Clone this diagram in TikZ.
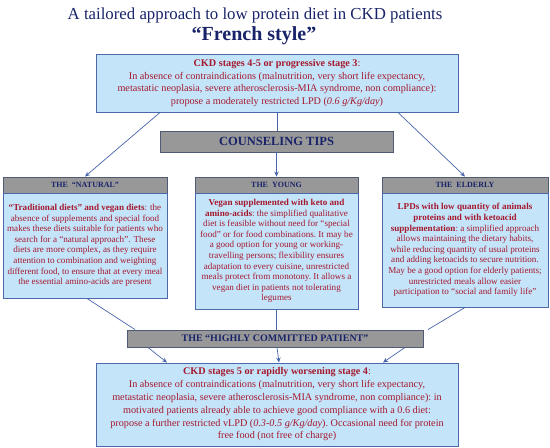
\documentclass[tikz,border=0pt]{standalone}
\usepackage{fontspec}
\setmainfont{Liberation Serif}
\usetikzlibrary{arrows.meta,calc}
\definecolor{boxfill}{RGB}{196,228,250}
\definecolor{boxline}{RGB}{75,105,170}
\definecolor{grayfill}{RGB}{152,152,152}
\definecolor{grayline}{RGB}{80,90,115}
\definecolor{redtxt}{RGB}{165,25,45}
\definecolor{navy}{RGB}{25,35,105}
\definecolor{conn}{RGB}{70,100,170}
\tikzset{
  bluebox/.style={draw=boxline, fill=boxfill, line width=0.9pt, inner sep=1pt, align=center, text=redtxt},
  graybox/.style={draw=grayline, fill=grayfill, line width=0.9pt, inner sep=1pt, align=center, text=navy, font=\bfseries},
  conline/.style={draw=conn, line width=0.7pt},
  conarrow/.style={conline, -{Stealth[length=5pt,width=4.5pt,open]}},
}
\begin{document}
\begin{tikzpicture}[x=1pt,y=-1pt]
\useasboundingbox (0,0) rectangle (550,448);
% titles
\node[text=navy, font=\fontsize{16.8}{19}\selectfont] (t1) at (255,15) {A tailored approach to low protein diet in CKD patients};
\node[text=navy, font=\bfseries\fontsize{20}{22}\selectfont] (t2) at (254,36) {“French style”};
% top box
\node[bluebox, minimum width=362, minimum height=58, font=\fontsize{10.2}{12.6}\selectfont] (top) at (277,83)
 {\textbf{CKD stages 4-5 or progressive stage 3}:\\
  In absence of contraindications\ (malnutrition,\ very short life\ expectancy,\\
  metastatic\ neoplasia,\ severe\ atherosclerosis-MIA\ syndrome,\ non compliance):\\
  propose a moderately\ restricted\ LPD (\textit{0.6 g/Kg/day})};
% counseling tips
\node[graybox, minimum width=233, minimum height=21, font=\bfseries\fontsize{12.5}{14}\selectfont] (tips) at (276.5,141.5) {COUNSELING TIPS};
% headers
\node[graybox, minimum width=164, minimum height=16, font=\bfseries\fontsize{8}{9}\selectfont] (hL) at (85,185) {THE\ \ “NATURAL”};
\node[graybox, minimum width=163, minimum height=16, font=\bfseries\fontsize{8}{9}\selectfont] (hM) at (276.5,185) {THE\ \ YOUNG};
\node[graybox, minimum width=166, minimum height=16, font=\bfseries\fontsize{8}{9}\selectfont] (hR) at (465,185) {THE\ \ ELDERLY};
% bodies
\node[bluebox, minimum width=164, minimum height=105, font=\fontsize{9.1}{10.6}\selectfont] (bL) at (85,245.5)
 {\textbf{“Traditional\ diets” and vegan\ diets}: the\\
  absence of supplements and special food\\
  makes these diets suitable for patients who\\
  search for a “natural approach”. These\\
  diets are more\ complex,\ as they require\\
  attention to combination\ and weighting\\
  different food, to ensure that at every meal\\
  the essential amino-acids\ are present};
\node[bluebox, minimum width=163, minimum height=116, font=\fontsize{9.1}{10.6}\selectfont] (bM) at (276.5,251)
 {\textbf{Vegan\ supplemented\ with\ keto and}\\
  \textbf{amino-acids}:\ the simplified\ qualitative\\
  diet is feasible without need for “special\\
  food” or for food combinations.\ It may be\\
  a good option for young or working-\\
  travelling persons; flexibility\ ensures\\
  adaptation to every cuisine, unrestricted\\
  meals protect from\ monotony.\ It allows\ a\\
  vegan diet in patients not tolerating\\
  legumes};
\node[bluebox, minimum width=166, minimum height=114, font=\fontsize{9.1}{10.6}\selectfont] (bR) at (465,250)
 {\textbf{LPDs with\ low quantity\ of\ animals}\\
  \textbf{proteins\ and\ with\ ketoacid}\\
  \textbf{supplementation}:\ a simplified\ approach\\
  allows maintaining\ the dietary habits,\\
  while\ reducing quantity of usual proteins\\
  and adding ketoacids to secure nutrition.\\
  May be a good option for elderly\ patients;\\
  unrestricted meals\ allow\ easier\\
  participation to “social and family\ life”};
% highly committed
\node[graybox, minimum width=296, minimum height=17, font=\bfseries\fontsize{10}{11}\selectfont] (hc) at (275,338.5) {THE “HIGHLY COMMITTED PATIENT”};
% bottom box
\node[bluebox, minimum width=362, minimum height=83, font=\fontsize{10.2}{12.8}\selectfont] (bot) at (277,404.5)
 {\textbf{CKD stages 5 or rapidly\ worsening\ stage 4}:\\
  In absence of contraindications\ (malnutrition,\ very short life\ expectancy,\\
  metastatic\ neoplasia,\ severe atherosclerosis-MIA\ syndrome,\ non compliance):\ in\\
  motivated\ patients\ already\ able to achieve\ good compliance\ with\ a 0.6 diet:\\
  propose a further\ restricted\ vLPD (\textit{0.3-0.5 g/Kg/day}).\ Occasional\ need for protein\\
  free food (not free of charge)};
% connectors
\draw[conarrow] ([xshift=-117pt]top.south) -- ([xshift=0pt]hL.north);
\draw[conarrow] ([xshift=121pt]top.south) -- ([xshift=0pt]hR.north);
\draw[conline] (top.south) -- (top.south |- tips.north);
\draw[conarrow] (tips.south) -- (tips.south |- hM.north);
\draw[conline] ([xshift=2pt]bL.south) -- ([xshift=-140pt]hc.north);
\draw[conline] (bM.south) -- (bM.south |- hc.north);
\draw[conline] ([xshift=0pt]bR.south) -- ([xshift=153pt]hc.north);
\draw[conarrow] ([xshift=-127pt]hc.south) -- ([xshift=-110pt]bot.north);
\draw[conarrow] ([xshift=2pt]hc.south) -- ([xshift=2pt]bot.north);
\draw[conarrow] ([xshift=130pt]hc.south) -- ([xshift=106pt]bot.north);
\end{tikzpicture}
\end{document}
